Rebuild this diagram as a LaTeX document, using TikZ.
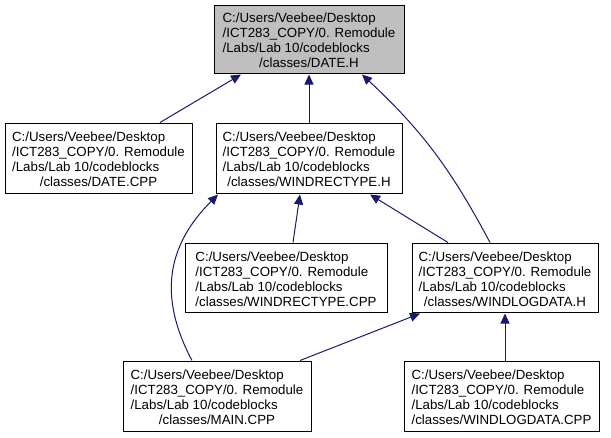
\documentclass[tikz,border=0pt]{standalone}
\usepackage{fontspec}
\setmainfont{Liberation Sans}
\usepackage{tikz,xcolor}
\usetikzlibrary{arrows.meta,calc}

\definecolor{edgeblue}{HTML}{191970}
\definecolor{topgray}{HTML}{BFBFBF}

% path label: three left lines, last one centred
\newcommand{\incfile}[1]{\raisebox{-3pt}[\height][\depth]{\begin{tabular}{@{}l@{}}
C:/Users/Veebee/Desktop\\
/ICT283\_COPY/0. Remodule\\
/Labs/Lab 10/codeblocks\\
\multicolumn{1}{@{}c@{}}{/classes/#1}
\end{tabular}}}

\tikzset{
  file/.style={draw=black, line width=1pt, inner sep=0pt, font=\fontsize{13.3}{15}\selectfont},
  edge/.style={draw=edgeblue, line width=1pt, -{Triangle[length=10pt,width=9pt]}}
}

\begin{document}
\begin{tikzpicture}[x=1pt,y=-1pt]
\useasboundingbox (0,0) rectangle (611,437);

\node[file, fill=topgray, minimum width=190pt, minimum height=68pt] (dateh) at (309,39) {\incfile{DATE.H}};

\node[file, minimum width=187pt, minimum height=70pt] (datecpp) at (98.5,158) {\incfile{DATE.CPP}};
\node[file, minimum width=186pt, minimum height=70pt] (windrech) at (309,158) {\incfile{WINDRECTYPE.H}};

\node[file, minimum width=202pt, minimum height=69pt] (windreccpp) at (286,277.5) {\incfile{WINDRECTYPE.CPP}};
\node[file, minimum width=186pt, minimum height=69pt] (windlogh) at (505,277.5) {\incfile{WINDLOGDATA.H}};

\node[file, minimum width=188pt, minimum height=70pt] (maincpp) at (217,396) {\incfile{MAIN.CPP}};
\node[file, minimum width=195pt, minimum height=70pt] (windlogcpp) at (501.5,396) {\incfile{WINDLOGDATA.CPP}};

% includes, child -> parent
\draw[edge] ([xshift=61.5pt]datecpp.north) -- ([xshift=-68pt,yshift=-1pt]dateh.south);
\draw[edge] (windrech.north) -- ([yshift=-1pt]dateh.south);
\draw[edge] ([xshift=-15pt]windlogh.north) to[out=118,in=-43] ([xshift=53pt,yshift=-1pt]dateh.south);

\draw[edge] ([xshift=-25pt]maincpp.north) to[out=118,in=-135,looseness=1.1] ([xshift=-91pt,yshift=-1pt]windrech.south);
\draw[edge] ([xshift=7pt]windreccpp.north) -- ([xshift=-9pt,yshift=-1pt]windrech.south);
\draw[edge] ([xshift=-57pt]windlogh.north) -- ([xshift=61pt,yshift=-1pt]windrech.south);

\draw[edge] ([xshift=83pt]maincpp.north) -- ([xshift=-85pt,yshift=-1pt]windlogh.south);
\draw[edge] ([xshift=3.5pt]windlogcpp.north) -- ([yshift=-1pt]windlogh.south);
\end{tikzpicture}
\end{document}
